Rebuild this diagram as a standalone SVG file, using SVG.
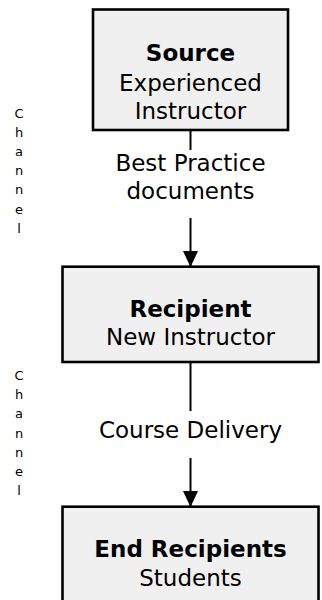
<svg xmlns="http://www.w3.org/2000/svg" width="322" height="600" viewBox="0 0 322 600">
<style>
.box{fill:#f0f0f0;stroke:#000;stroke-width:2.6}
.t{font-family:"DejaVu Sans",Verdana,sans-serif;font-size:23px;fill:#000;text-anchor:middle}
.b{font-weight:bold}
.ch{font-family:"DejaVu Sans",Verdana,sans-serif;font-size:13px;fill:#000;text-anchor:middle}
.ln{stroke:#000;stroke-width:2;fill:none}
</style>
<defs>
<marker id="ah" markerWidth="15" markerHeight="16" refX="15" refY="7.5" orient="auto" markerUnits="userSpaceOnUse"><path d="M0,0 L16,7.5 L0,15 Z" fill="#000"/></marker>
</defs>
<rect width="322" height="600" fill="#fff"/>
<g id="connectors">
<line class="ln" x1="190.5" y1="130" x2="190.5" y2="150"/>
<line class="ln" x1="190.5" y1="218" x2="190.5" y2="266" marker-end="url(#ah)"/>
<text class="t" x="190.5" y="171">Best Practice</text>
<text class="t" x="190.5" y="199">documents</text>
<line class="ln" x1="190.5" y1="362" x2="190.5" y2="411"/>
<line class="ln" x1="190.5" y1="458" x2="190.5" y2="506" marker-end="url(#ah)"/>
<text class="t" x="190.5" y="438">Course Delivery</text>
</g>
<g id="channel1">
<text class="ch" x="19" y="117.5">C</text>
<text class="ch" x="19" y="136.7">h</text>
<text class="ch" x="19" y="155.9">a</text>
<text class="ch" x="19" y="175.1">n</text>
<text class="ch" x="19" y="194.3">n</text>
<text class="ch" x="19" y="213.5">e</text>
<text class="ch" x="19" y="232.7">l</text>
</g>
<g id="channel2">
<text class="ch" x="19" y="380.2">C</text>
<text class="ch" x="19" y="399.3">h</text>
<text class="ch" x="19" y="418.4">a</text>
<text class="ch" x="19" y="437.5">n</text>
<text class="ch" x="19" y="456.6">n</text>
<text class="ch" x="19" y="475.7">e</text>
<text class="ch" x="19" y="494.8">l</text>
</g>
<g id="source">
<rect class="box" x="93" y="9.5" width="195" height="120.5"/>
<text class="t b" x="190.5" y="61">Source</text>
<text class="t" x="190.5" y="90.5">Experienced</text>
<text class="t" x="190.5" y="119">Instructor</text>
</g>
<g id="recipient">
<rect class="box" x="62.5" y="266.7" width="256" height="95.3"/>
<text class="t b" x="190.5" y="316.7">Recipient</text>
<text class="t" x="190.5" y="345">New Instructor</text>
</g>
<g id="endrecipients">
<rect class="box" x="62.5" y="506.7" width="256" height="110"/>
<text class="t b" x="190.5" y="556.7">End Recipients</text>
<text class="t" x="190.5" y="585.7">Students</text>
</g>
</svg>
